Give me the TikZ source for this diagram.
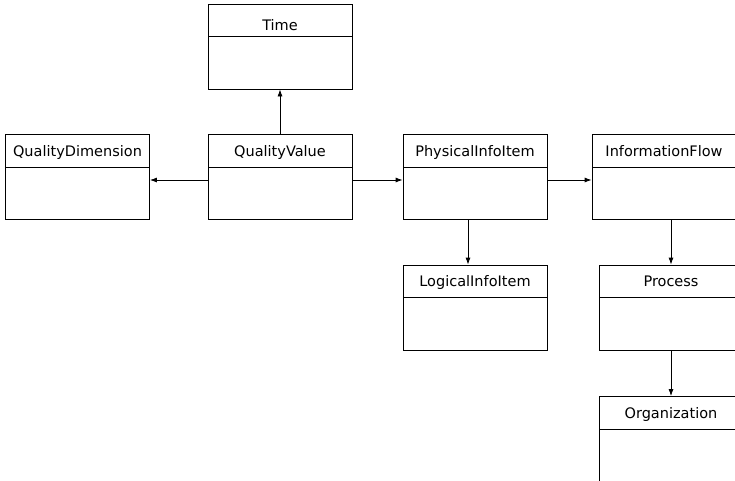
\documentclass[tikz,border=0pt]{standalone}
\usepackage{fontspec}
\setmainfont{DejaVu Sans}
\usetikzlibrary{arrows.meta}
\tikzstyle{classbox}=[draw, minimum width=144pt, minimum height=85pt, inner sep=0pt,
  path picture={\draw ([yshift=-32.5pt]path picture bounding box.north west) -- ([yshift=-32.5pt]path picture bounding box.north east);}]
\tikzstyle{classname}=[anchor=base, yshift=-22pt, font=\fontsize{14.5}{17}\selectfont]

\begin{document}
\begin{tikzpicture}[x=1pt, y=1pt, line width=0.8pt, >={Latex[length=7pt,width=5pt]}]
\useasboundingbox (0,0) rectangle (735,-480);
\node[classbox, label={[classname,yshift=-5pt]north:Time}] at (280,-46.5) (time) {};
\node[classbox, label={[classname]north:QualityDimension}] at (77.5,-177) (dimension) {};
\node[classbox, label={[classname]north:QualityValue}] at (280,-177) (value) {};
\node[classbox, label={[classname]north:PhysicalInfoItem}] at (475,-177) (physical) {};
\node[classbox, label={[classname]north:InformationFlow}] at (664,-177) (flow) {};
\node[classbox, label={[classname]north:LogicalInfoItem}] at (475,-307.5) (logical) {};
\node[classbox, label={[classname]north:Process}] at (671,-307.5) (process) {};
\node[classbox, label={[classname]north:Organization}] at (671,-439) (organization) {};
\draw[->] (value) -- (time);
\draw[->] ([yshift=-3pt]value.west) -- ([yshift=-3pt]dimension.east);
\draw[->] ([yshift=-3pt]value.east) -- ([yshift=-3pt]physical.west);
\draw[->] ([yshift=-3pt]physical.east) -- ([yshift=-3pt]flow.west);
\draw[->] ([xshift=-7pt]physical.south) -- ([xshift=-7pt]logical.north);
\draw[->] (flow.south -| process.north) -- (process.north);
\draw[->] (process) -- (organization);
\end{tikzpicture}
\end{document}
